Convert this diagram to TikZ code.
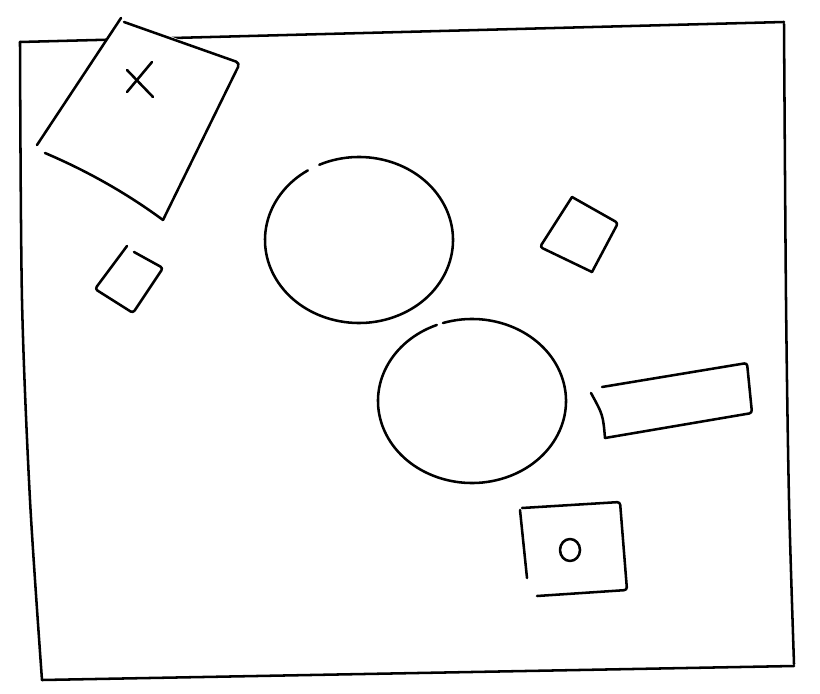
\documentclass[tikz,border=0pt]{standalone}
\usetikzlibrary{calc}

\begin{document}
\begin{tikzpicture}[x=0.025cm, y=-0.025cm, line cap=round, line join=round,
  pen/.style={line width=1.8pt, black}]
        \useasboundingbox (0,0) rectangle (820,694);
        % frame
        \draw[pen] (20,42) -- (784,22);
        \draw[pen] plot[smooth] coordinates {(784,24) (786,300) (789,500) (794,664)};
        \draw[pen] (42,680) -- (794,666);
        \draw[pen] plot[smooth] coordinates {(20,42) (22,300) (30,500) (42,680)};
        % tilted sheet with the cross
        \fill[white] (121,18) -- (240,62) -- (163,220) -- (40,148) -- cycle;
        \draw[pen] (121,18) -- (37,145);
        \draw[pen, rounded corners=3pt] (124,22) -- (240,63) -- (163,220);
        \draw[pen] (45,153) .. controls (85,170) and (125,192) .. (163,220);
        \draw[pen] (127,70) -- (153,97);
        \draw[pen] (152,62) -- (127,92);
        % small squares
        \draw[pen, rounded corners=2pt] (127,246) -- (95,289) -- (133,313) -- (163,268) -- (134,252);
        \draw[pen, rounded corners=2pt] (572,197) -- (540,247) -- (592,272);
        \draw[pen, rounded corners=2pt] (572,197) -- (618,223) -- (592,272);
        % ellipses
        \draw[pen] (359,240) ++(245:94 and 83) arc[start angle=245, end angle=597, x radius=94, y radius=83];
        \draw[pen] (472,401) ++(252:94 and 82) arc[start angle=252, end angle=608, x radius=94, y radius=82];
        % long box
        \draw[pen, rounded corners=2pt] (602,387) -- (747,363) -- (752,413) -- (605,438);
        \draw[pen] (605,438) .. controls (603,415) .. (591,393);
        % box with the o
        \draw[pen, rounded corners=2pt] (522,508) -- (620,502) -- (627,590) -- (537,596);
        \draw[pen] (520,510) -- (527,578);
        \draw[pen] (570,550) ellipse[x radius=10, y radius=11];
      \end{tikzpicture}
\end{document}
